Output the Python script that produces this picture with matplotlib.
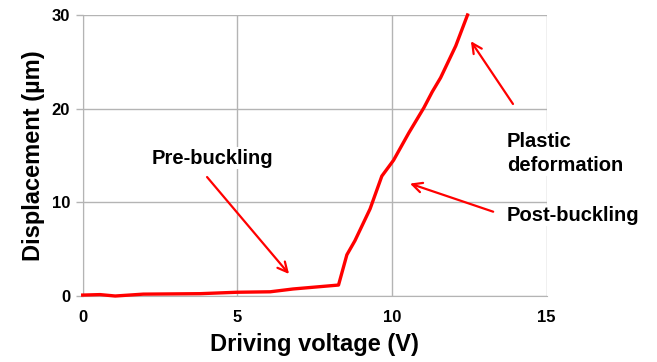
import numpy as np
import matplotlib
matplotlib.use('Agg')
import matplotlib.pyplot as plt

plt.rcParams['font.family'] = ['Liberation Sans', 'DejaVu Sans']
plt.rcParams['font.weight'] = 'bold'

voltage = [0, 0.56, 1.05, 1.96, 3.8, 4.98, 6.06, 6.8, 8.27, 8.54, 8.8, 9.29,
           9.67, 10.05, 10.54, 11.03, 11.3, 11.57, 12.06, 12.44]
displacement = [0.1, 0.15, 0.0, 0.2, 0.25, 0.4, 0.45, 0.75, 1.17, 4.4, 5.9, 9.3,
                12.8, 14.5, 17.4, 20.1, 21.8, 23.3, 26.7, 30.0]

xticks = [0, 5, 10, 15]
yticks = [0, 10, 20, 30]

labels = ['Pre-buckling', 'Plastic\ndeformation', 'Post-buckling']
text_pos = [(4.18, 14.7), (13.72, 15.2), (13.72, 8.6)]
arrow_tail = [(4.02, 12.7), (13.91, 20.5), (13.27, 9.0)]
arrow_head = [(6.67, 2.35), (12.55, 27.2), (10.58, 12.0)]
text_ha = ['center', 'left', 'left']

fig = plt.figure(figsize=(6.57, 3.62), dpi=100)
ax = fig.add_axes([0.1259, 0.1823, 0.7062, 0.7763])

gridc = '#b4b4b4'
ax.set_xlim(0, 15)
ax.set_ylim(0, 30)
ax.set_xticks(xticks)
ax.set_yticks(yticks)
ax.grid(True, color=gridc, linewidth=1.0)
for s in ['top', 'right']:
    ax.spines[s].set_visible(False)
for s in ['left', 'bottom']:
    ax.spines[s].set_color(gridc)
ax.tick_params(axis='y', color=gridc, length=5, width=1, labelsize=12, pad=4)
ax.tick_params(axis='x', length=0, labelsize=12, pad=10)

ax.plot(voltage, displacement, color='#ff0000', linewidth=2.4, clip_on=False, zorder=3)

for lab, tp, ha in zip(labels, text_pos, text_ha):
    ax.text(tp[0], tp[1], lab, ha=ha, va='center', fontsize=14.5, fontweight='bold',
            linespacing=1.3, zorder=4,
            bbox=dict(facecolor='white', edgecolor='none', pad=1))
for t, h in zip(arrow_tail, arrow_head):
    ax.annotate('', xy=h, xytext=t, annotation_clip=False,
                arrowprops=dict(arrowstyle='->,head_length=0.7,head_width=0.35',
                                color='#ff0000', lw=1.6, shrinkA=0, shrinkB=0))

ax.set_xlabel('Driving voltage (V)', fontsize=17, fontweight='bold', labelpad=6)
ax.set_ylabel('Displacement (\u00b5m)', fontsize=17, fontweight='bold', labelpad=5)

fig.savefig('out.png', dpi=100)
